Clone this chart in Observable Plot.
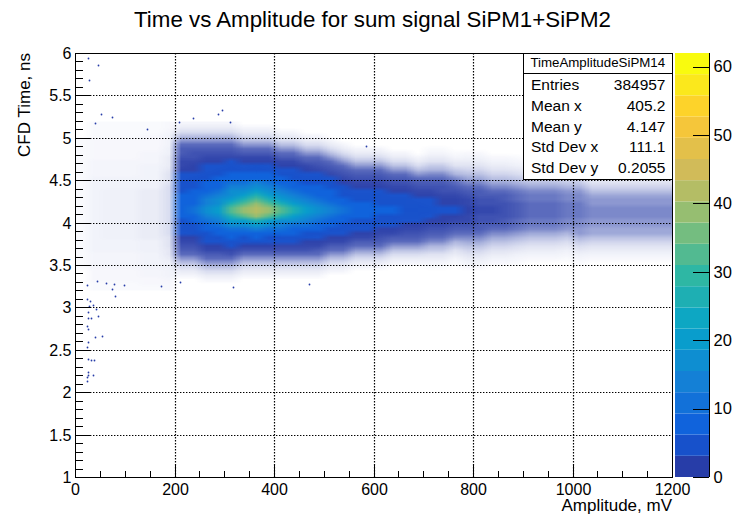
<!DOCTYPE html>
<html><head><meta charset="utf-8">
<script src="https://cdn.jsdelivr.net/npm/d3@7"></script>
<script src="https://cdn.jsdelivr.net/npm/@observablehq/plot@0.6"></script>
<style>
body{margin:0;background:#fff;}
#root{position:relative;width:747px;height:530px;overflow:hidden;background:#fff;}
#root svg{position:absolute;top:0;left:0;}
</style></head><body><div id="root"></div>
<script>
// ---------------- data ----------------
const titleText = "Time vs Amplitude for sum signal SiPM1+SiPM2";
const xTitle = "Amplitude, mV";
const yTitle = "CFD Time, ns";
const statsTitle = "TimeAmplitudeSiPM14";
const statsLabels = ["Entries", "Mean x", "Mean y", "Std Dev x", "Std Dev y"];
const statsValues = ["384957", "405.2", "4.147", "111.1", "0.2055"];

const majorX = [0, 200, 400, 600, 800, 1000, 1200];
const minorX = [50, 100, 150, 250, 300, 350, 450, 500, 550, 650, 700, 750, 850, 900, 950, 1050, 1100, 1150];
const gridX = [200, 400, 600, 800, 1000];
const majorY = [1, 1.5, 2, 2.5, 3, 3.5, 4, 4.5, 5, 5.5, 6];
const minorY = [1.1, 1.2, 1.3, 1.4, 1.6, 1.7, 1.8, 1.9, 2.1, 2.2, 2.3, 2.4, 2.6, 2.7, 2.8, 2.9,
  3.1, 3.2, 3.3, 3.4, 3.6, 3.7, 3.8, 3.9, 4.1, 4.2, 4.3, 4.4, 4.6, 4.7, 4.8, 4.9,
  5.1, 5.2, 5.3, 5.4, 5.6, 5.7, 5.8, 5.9];
const gridY = [1.5, 2, 2.5, 3, 3.5, 4, 4.5, 5, 5.5];

const colorTicks = [0, 10, 20, 30, 40, 50, 60];
const zMax = 62;
const bandEdges = [0, 3.1, 6.2, 9.3, 12.4, 15.5, 18.6, 21.7, 24.8, 27.9, 31, 34.1, 37.2, 40.3, 43.4, 46.5, 49.6, 52.7, 55.8, 58.9, 62];

// histogram cells: column centres (mV), row centres (ns, top to bottom)
const xCenters = [12.5, 37.5, 62.5, 87.5, 112.5, 137.5, 162.5, 187.5, 212.5, 237.5, 262.5, 287.5,
  312.5, 337.5, 362.5, 387.5, 412.5, 437.5, 462.5, 487.5, 512.5, 537.5, 562.5, 587.5,
  612.5, 637.5, 662.5, 687.5, 712.5, 737.5, 762.5, 787.5, 812.5, 837.5, 862.5, 887.5,
  912.5, 937.5, 962.5, 987.5, 1012.5, 1037.5, 1062.5, 1087.5, 1112.5, 1137.5, 1162.5, 1187.5];
const yRows = [5.175, 5.125, 5.075, 5.025, 4.975, 4.925, 4.875, 4.825, 4.775, 4.725, 4.675, 4.625,
  4.575, 4.525, 4.475, 4.425, 4.375, 4.325, 4.275, 4.225, 4.175, 4.125, 4.075, 4.025,
  3.975, 3.925, 3.875, 3.825, 3.775, 3.725, 3.675, 3.625, 3.575, 3.525, 3.475, 3.425,
  3.375, 3.325, 3.275, 3.225];
// level code -> mean entries per bin
const levelChars = "0123456789abcdefghijklmnopqrstuvwxyz";
const levelValues = [0, 0.02, 0.03, 0.04, 0.05, 0.06, 0.08, 0.1, 0.12, 0.15, 0.19, 0.24, 0.3, 0.37,
  0.46, 0.58, 0.72, 0.9, 1.1, 1.4, 1.7, 2.2, 2.7, 3.4, 4.2, 5.3, 6.6, 8.2, 10, 13, 16, 20, 25, 32, 39, 43];
// one string per column, rows from 5.2 ns (top) down to 3.2 ns
const columnProfiles = [
  "0000111111" + "1111111111" + "1111111111" + "1111100000",
  "1111222223" + "3334444444" + "4444444444" + "4333322211",
  "1111222223" + "3334445555" + "5555555544" + "4333322211",
  "1111222223" + "3334445555" + "5555555544" + "4333322211",
  "1111222223" + "3334445555" + "5555555544" + "4333322211",
  "1112222333" + "4444556666" + "6666666655" + "5444433221",
  "1112222333" + "4444556666" + "6666666655" + "5444433221",
  "2234445566" + "6788899999" + "9999999888" + "7765544322",
  "369cfijjkllmnnoopqqrr" + "rqpponmlkjifc963000",
  "369cfijkklmmnoopqqrrs" + "srqpoomlkjifc963000",
  "369cfijklmnnopqrrsttu" + "utsrqponmljifc96300",
  "369cfijklmnopqqrstuuv" + "vutsrqpnmljifc96300",
  "369cfijklnopqrstuuvwx" + "xwvusrqonlkifc96300",
  "0369cfijlmnoqrstuvwxy" + "yxvusrpnmkifc963000",
  "0369cfijlmopqrtuvwxyz" + "zywvtrqomkifc963000",
  "0369cfijlmnoqrstuvwxy" + "yxvusrpnmkifc963000",
  "00369cfijlmnoqrstuvwx" + "xwutsqpnlkifc963000",
  "00369cfijlmnopqrstuvw" + "wvusrqonlkifc963000",
  "000369cfijlmnopqrstuv" + "vutsqpomlkifc963000",
  "000369cfijklnopqrrstu" + "utsrqpnmljifc963000",
  "0000369cfijklnopqqrst" + "tsrqpnmljifc9630000",
  "00000369cfijklmoopqrs" + "srqponmljifc9630000",
  "000000369cfijklmnopqr" + "rqponmljifc96300000",
  "000000369cfijklmnopqr" + "rqponmljifc96300000",
  "000000369cfijklmnoopq" + "qponmlkjifc96300000",
  "0000000369cfijklmnopq" + "qponmljifc963000000",
  "0000000369cfijklmnoop" + "ponmlkjifc963000000",
  "00000000369cfijklmnop" + "ponmlkjifc963000000",
  "0000001368bdgijklmnno" + "onmlkjigdb863100000",
  "0000001368bdgijkklmmn" + "nmmlkjigdb863100000",
  "00000001368bdgijklmmn" + "nmlkjigdb8631000000",
  "00000002468acegijkllm" + "mllkjigeca864200000",
  "00000002468acegijjkkl" + "lkkjjigeca864200000",
  "000000002468acegijkkl" + "lkkjigeca8642000000",
  "000000002468acegijjkk" + "kkjjigeca8642000000",
  "0000000013579bdfhiijj" + "jjiihfdb97531000000",
  "0000000002468aceghhii" + "iihhgeca86420000000",
  "0000000002468aceghhii" + "iihhgeca86420000000",
  "0000000002468aceghhii" + "iihhgeca86420000000",
  "00000000013579bdfgghh" + "hhggfdb975310000000",
  "00000000013579bdfgghh" + "hhggffdb97531000000",
  "000000000002468aceffg" + "ggffeeca86420000000",
  "000000000002468aceffg" + "ggffeeca86420000000",
  "000000000002468aceffg" + "ggffeeca86420000000",
  "000000000002468aceffg" + "ggffeeca86420000000",
  "000000000002468aceffg" + "ggffeeca86420000000",
  "000000000002468aceffg" + "ggffeeca86420000000",
  "000000000002468aceffg" + "ggffeeca86420000000"
];
// isolated entries outside the gridded region (mV, ns)
const outlierX = [27, 46, 29, 53, 75, 40, 145, 295, 287, 238, 210, 311, 585,
  25, 44, 63, 79, 74, 80, 99, 172, 212, 317, 470,
  25, 31, 28, 37, 43, 27, 32, 26, 46, 25, 27, 41, 54, 27, 25, 26, 32, 39, 26, 27, 36, 25, 25];
const outlierY = [5.94, 5.86, 5.68, 5.28, 5.25, 5.17, 5.10, 5.33, 5.28, 5.23, 5.19, 5.19, 4.9,
  3.27, 3.31, 3.29, 3.28, 3.22, 3.13, 3.27, 3.25, 3.30, 3.24, 3.28,
  3.10, 3.07, 3.02, 3.03, 2.98, 2.95, 2.88, 2.87, 2.90, 2.78, 2.75, 2.65, 2.66, 2.59, 2.53, 2.39, 2.38, 2.38, 2.24, 2.20, 2.20, 2.18, 2.13];

// ---------------- palette (ROOT kBird) ----------------
const birdStops = [0, 0.125, 0.25, 0.375, 0.5, 0.625, 0.75, 0.875, 1];
const birdR = [0.2082, 0.0592, 0.0780, 0.0232, 0.1802, 0.5301, 0.8186, 0.9956, 0.9764];
const birdG = [0.1664, 0.3599, 0.5041, 0.6419, 0.7178, 0.7492, 0.7328, 0.7862, 0.9832];
const birdB = [0.5293, 0.8684, 0.8385, 0.7914, 0.6425, 0.4662, 0.3499, 0.1968, 0.0539];
function bird(t) {
  let k = 0;
  while (k < birdStops.length - 2 && t > birdStops[k + 1]) k++;
  const f = (t - birdStops[k]) / (birdStops[k + 1] - birdStops[k]);
  const ch = a => Math.round(255 * (a[k] + (a[k + 1] - a[k]) * f));
  return `rgb(${ch(birdR)},${ch(birdG)},${ch(birdB)})`;
}
const nBands = bandEdges.length - 1;
const bandColors = d3.range(nBands).map(i => bird(Math.floor((i + 0.99) * 255 / nBands) / 254));
const colorScale = {type: "threshold", domain: bandEdges.slice(1, -1), range: bandColors};

// ---------------- build tables ----------------
const cells = [];
columnProfiles.forEach((col, c) => {
  if (col.length !== yRows.length) throw new Error("column " + c + " has length " + col.length);
  for (let r = 0; r < yRows.length; r++) {
    const idx = levelChars.indexOf(col[r]);
    if (idx < 0) throw new Error("bad code " + col[r]);
    const v = levelValues[idx];
    if (v > 0) cells.push({x: xCenters[c], y: yRows[r], v});
  }
});
const outliers = outlierX.map((x, i) => ({x, y: outlierY[i]}));
const bands = d3.range(nBands).map(i => ({lo: bandEdges[i], hi: bandEdges[i + 1], mid: (bandEdges[i] + bandEdges[i + 1]) / 2}));

// ---------------- layout ----------------
const W = 747, H = 530;
const fL = 75, fR = 672, fT = 53, fB = 477;
const frameW = fR - fL, frameH = fB - fT;
const font = "'Liberation Sans', Arial, Helvetica, sans-serif";
const crisp = {shapeRendering: "crispEdges"};
const common = {
  width: W, height: H,
  marginLeft: fL, marginRight: W - fR, marginTop: fT, marginBottom: H - fB,
  style: {fontFamily: font, fontSize: "16px", color: "#000", background: "transparent", overflow: "visible"}
};
const root = document.getElementById("root");

// histogram layer
const main = Plot.plot({
  ...common,
  x: {domain: [0, 1200], round: true},
  y: {domain: [1, 6], round: true},
  color: colorScale,
  opacity: {domain: [0, 1], range: [0, 1]},
  marks: [
    Plot.raster(cells, {
      x: "x", y: "y", fill: "v",
      fillOpacity: d => 1 - Math.exp(-1.3 * d.v),
      x1: 0, x2: 1200, y1: 3.2, y2: 5.2, width: xCenters.length, height: yRows.length
    }),
    Plot.dot(outliers, {x: "x", y: "y", r: 0.9, fill: bandColors[0], stroke: null}),
    Plot.axisX(majorX, {tickSize: 0, tickPadding: 6, tickFormat: d => String(d), label: null}),
    Plot.axisY(majorY, {tickSize: 0, tickPadding: 4, tickFormat: d => String(d), label: null})
  ]
});
root.appendChild(main);

// grid, ticks and frame layer (drawn above the histogram)
const overlay = Plot.plot({
  ...common,
  x: {domain: [0, 1200], round: true, axis: null},
  y: {domain: [1, 6], round: true, axis: null},
  marks: [
    Plot.ruleX(gridX, {stroke: "#000", strokeWidth: 1.2, strokeDasharray: "1.4,1.6"}),
    Plot.ruleY(gridY, {stroke: "#000", strokeWidth: 1.2, strokeDasharray: "1.4,1.6"}),
    Plot.ruleX(majorX, {stroke: "#000", insetTop: frameH - 13, ...crisp}),
    Plot.ruleX(minorX, {stroke: "#000", insetTop: frameH - 6.5, ...crisp}),
    Plot.ruleY(majorY, {stroke: "#000", insetRight: frameW - 16, ...crisp}),
    Plot.ruleY(minorY, {stroke: "#000", insetRight: frameW - 8, ...crisp}),
    Plot.frame({stroke: "#000", ...crisp})
  ]
});
root.appendChild(overlay);

// colour bar
const cbLeft = 675, cbWidth = 34, cbSvgW = 72;
const bar = Plot.plot({
  width: cbSvgW, height: H,
  marginLeft: 0, marginRight: cbSvgW - cbWidth, marginTop: fT, marginBottom: H - fB,
  style: {fontFamily: font, fontSize: "16.5px", color: "#000", background: "transparent", overflow: "visible"},
  x: {domain: [0, 1], axis: null},
  y: {domain: [0, zMax]},
  color: colorScale,
  marks: [
    Plot.rect(bands, {x1: 0, x2: 1, y1: "lo", y2: "hi", fill: "mid"}),
    Plot.ruleY(colorTicks, {stroke: "#000", insetLeft: cbWidth - 16, ...crisp}),
    Plot.ruleX([1], {stroke: "#000", ...crisp}),
    Plot.axisY(colorTicks, {anchor: "right", tickSize: 0, tickPadding: 4, tickFormat: d => String(d), label: null})
  ]
});
bar.style.left = cbLeft + "px";
root.appendChild(bar);

// ---------------- texts and stats box ----------------
const svg = d3.select(overlay);
svg.append("text").attr("x", 372.5).attr("y", 27.3).attr("text-anchor", "middle")
  .attr("font-size", 22.3).attr("fill", "#000").text(titleText);
svg.append("text").attr("x", fR).attr("y", 511).attr("text-anchor", "end")
  .attr("font-size", 17).attr("fill", "#000").text(xTitle);
svg.append("text").attr("transform", `translate(30,${fT}) rotate(-90)`).attr("text-anchor", "end")
  .attr("font-size", 17).attr("fill", "#000").text(yTitle);

const sbL = 523.5, sbT = fT + 0.5, sbB = 179.5, sbDiv = 73.5;
const sb = svg.append("g");
sb.append("rect").attr("x", sbL).attr("y", sbT).attr("width", fR + 0.5 - sbL).attr("height", sbB - sbT)
  .attr("fill", "#fff").attr("stroke", "#000").attr("stroke-width", 1);
sb.append("line").attr("x1", sbL).attr("x2", fR + 0.5).attr("y1", sbDiv).attr("y2", sbDiv)
  .attr("stroke", "#000");
sb.append("text").attr("x", (sbL + fR) / 2).attr("y", 66.7).attr("text-anchor", "middle")
  .attr("font-size", 13.3).attr("fill", "#000").text(statsTitle);
const rowBase = [90, 110.8, 131.6, 152.4, 173.2];
statsLabels.forEach((lab, i) => {
  sb.append("text").attr("x", 531).attr("y", rowBase[i]).attr("text-anchor", "start")
    .attr("font-size", 15.5).attr("fill", "#000").text(lab);
  sb.append("text").attr("x", 665.5).attr("y", rowBase[i]).attr("text-anchor", "end")
    .attr("font-size", 15.5).attr("fill", "#000").text(statsValues[i]);
});
</script></body></html>
